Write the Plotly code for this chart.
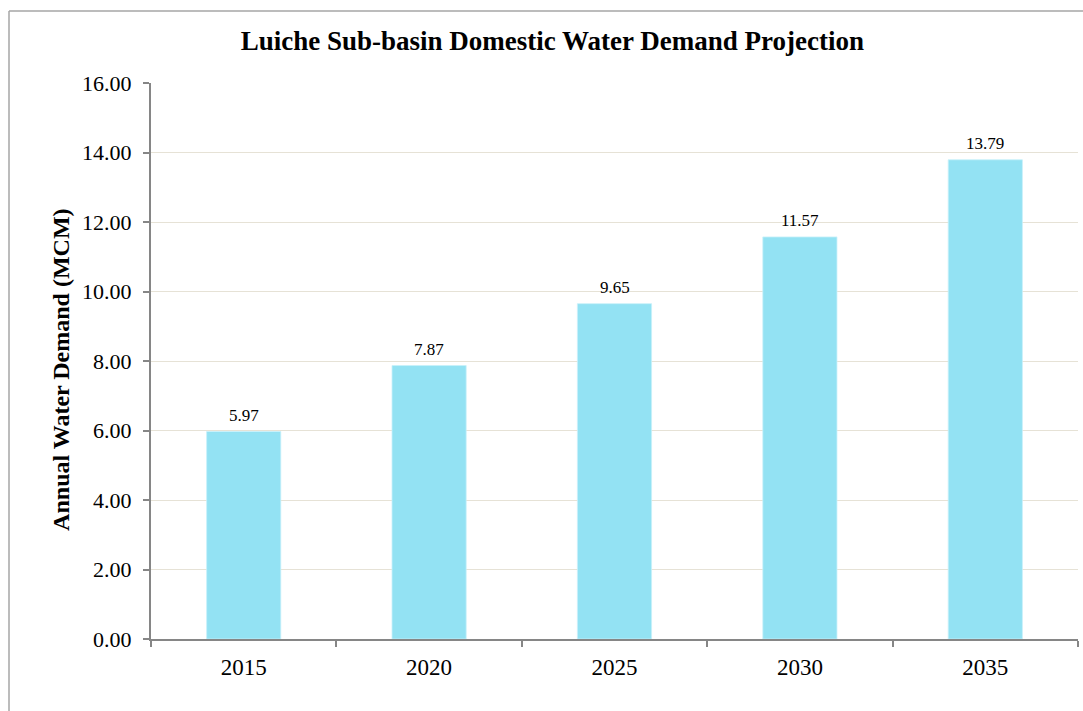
import plotly.graph_objects as go

years = ["2015", "2020", "2025", "2030", "2035"]
demand = [5.97, 7.87, 9.65, 11.57, 13.79]
y_ticks = [0, 2, 4, 6, 8, 10, 12, 14, 16]
y_tick_text = ["%.2f" % v for v in y_ticks]

serif = "Liberation Serif, Times New Roman, serif"

fig = go.Figure()
fig.add_trace(go.Bar(
    x=years,
    y=demand,
    width=0.4,
    marker=dict(color="#93e2f3", line=dict(color="#c8f0fa", width=0.8)),
    cliponaxis=False,
))

# value labels above each bar (category index positions)
for i, v in enumerate(demand):
    fig.add_annotation(
        x=i, y=v, xref="x", yref="y",
        text="%.2f" % v,
        showarrow=False,
        yanchor="middle",
        yshift=16,
        font=dict(family=serif, size=17, color="#000000"),
    )

# y-axis title
fig.add_annotation(
    x=(61 - 151) / 927, y=0.484, xref="paper", yref="paper",
    text="<b>Annual Water Demand (MCM)</b>",
    textangle=-90,
    showarrow=False,
    xanchor="center", yanchor="middle",
    font=dict(family=serif, size=24, color="#000000"),
)

fig.update_layout(
    width=1083,
    height=711,
    margin=dict(l=151, r=5, t=83, b=72),
    paper_bgcolor="#ffffff",
    plot_bgcolor="#ffffff",
    showlegend=False,
    title=dict(
        text="<b>Luiche Sub-basin Domestic Water Demand Projection</b>",
        font=dict(family=serif, size=27, color="#000000"),
        x=0.51, xanchor="center", y=0.943, yanchor="middle",
    ),
    xaxis=dict(
        type="category",
        range=[-0.5, len(years) - 0.5],
        tickson="boundaries",
        ticks="outside",
        ticklen=6,
        tickcolor="#868686",
        tickwidth=1.5,
        tickangle=0,
        showgrid=False,
        showline=True,
        linecolor="#868686",
        linewidth=2,
        ticklabelstandoff=6,
        tickfont=dict(family=serif, size=23, color="#000000"),
    ),
    yaxis=dict(
        range=[0, 16],
        tickvals=y_ticks,
        ticktext=y_tick_text,
        ticks="outside",
        ticklen=6,
        tickcolor="#868686",
        tickwidth=1.5,
        showgrid=True,
        gridcolor="#e6e2d6",
        gridwidth=1,
        showline=True,
        linecolor="#868686",
        linewidth=2,
        zeroline=False,
        ticklabelstandoff=7,
        tickfont=dict(family=serif, size=22, color="#000000"),
    ),
)

# outer chart frame (top and left edges)
fig.add_shape(type="line", xref="paper", yref="paper",
              x0=(9 - 151) / 927, x1=1.01, y0=(639 - 11) / 556, y1=(639 - 11) / 556,
              line=dict(color="#a6a6a6", width=1.5), layer="above")
fig.add_shape(type="line", xref="paper", yref="paper",
              x0=(9 - 151) / 927, x1=(9 - 151) / 927, y0=(639 - 11) / 556, y1=-0.2,
              line=dict(color="#a6a6a6", width=1.5), layer="above")

fig.write_html("out.html")
